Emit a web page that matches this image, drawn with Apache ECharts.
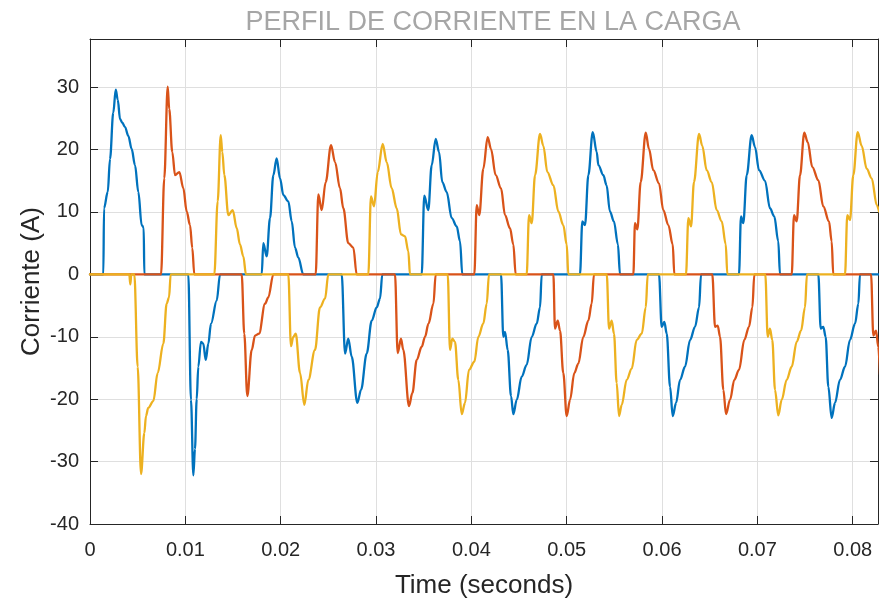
<!DOCTYPE html>
<html>
<head>
<meta charset="utf-8">
<script src="https://cdn.jsdelivr.net/npm/echarts@6/dist/echarts.min.js"></script>
<style>
html,body{margin:0;padding:0;background:#fff;}
#chart{width:879px;height:604px;}
</style>
</head>
<body>
<div id="chart"></div>
<script>
// Time (s) vs current (A) for the three phases
const faseAzul = [
[0,0],[0.00140,0],[0.00147,10.6],[0.00186,13.2],[0.00210,18.5],[0.00244,25.9],[0.00270,29.6],[0.00291,28.0],[0.00315,24.9],[0.00339,24.3],[0.00367,23.6],[0.00402,22.2],[0.00437,20.1],[0.00472,17.5],[0.00507,13.2],[0.00542,7.9],[0.00563,7.5],[0.00570,0],
[0.01031,0],[0.01059,-20.1],[0.01084,-32.2],[0.01101,-28],[0.01119,-20],[0.01136,-14.8],[0.01164,-10.8],[0.01188,-11.1],[0.01214,-13.7],[0.01241,-11.1],[0.01269,-7.9],[0.01329,-4.2],[0.01364,0],
[0.01801,0],[0.01818,5.0],[0.01853,2.9],[0.01888,9.0],[0.01923,15.9],[0.01958,18.6],[0.01993,15.4],[0.02028,12.7],[0.02080,11.7],[0.02116,8.5],[0.02150,4.3],[0.02185,2.7],[0.02237,0],
[0.02640,0],[0.02675,-12.7],[0.02709,-10.3],[0.02745,-13.2],[0.02804,-20.6],[0.02843,-18.5],[0.02902,-12.7],[0.02955,-7.4],[0.03007,-5.3],[0.03042,-3.9],[0.03066,0],
[0.03479,0],[0.03506,12.6],[0.03548,10.3],[0.03584,17.5],[0.03626,21.7],[0.03661,19.6],[0.03695,14.8],[0.03741,13.2],[0.03794,9.0],[0.03846,7.7],[0.03881,5.3],[0.03905,0],
[0.04311,0],[0.04335,-10],[0.04353,-9.2],[0.04381,-12.1],[0.04416,-19.5],[0.04440,-22.4],[0.04476,-20.1],[0.04528,-16.4],[0.04580,-14.5],[0.04633,-10],[0.04685,-7.9],[0.04720,-5.3],[0.04738,0],
[0.05139,0],[0.05164,8.5],[0.05192,7.9],[0.05227,15.9],[0.05273,22.8],[0.05315,19.6],[0.05332,17.5],[0.05384,15.9],[0.05418,14.3],[0.05453,10.1],[0.05495,8.5],[0.05537,4.8],[0.05559,0],
[0.05968,0],[0.05996,-8.4],[0.06024,-7.6],[0.06049,-9.5],[0.06084,-18],[0.06112,-22.7],[0.06147,-20.6],[0.06189,-16.9],[0.06241,-14.8],[0.06294,-10.5],[0.06346,-8.4],[0.06388,-5.3],[0.06409,0],
[0.06807,0],[0.06828,9.3],[0.06852,8.2],[0.06888,15.9],[0.06940,22.3],[0.06975,20.4],[0.07017,16.7],[0.07080,15.0],[0.07132,10.6],[0.07177,9.3],[0.07219,5.3],[0.07237,0],
[0.07639,0],[0.07664,-8.7],[0.07691,-8.4],[0.07716,-10],[0.07744,-18],[0.07779,-23],[0.07814,-20.6],[0.07866,-16.9],[0.07919,-14.8],[0.07971,-10.5],[0.08024,-7.9],[0.08059,-4.7],[0.08076,0],[0.0830,0]
];
const faseNaranja = [
[0,0],[0.00745,0],[0.00779,15.4],[0.00815,30.1],[0.00831,26.5],[0.00863,19.6],[0.00892,15.9],[0.00937,16.4],[0.00979,13.8],[0.01014,10.1],[0.01049,7.9],[0.01073,4.2],[0.01094,0],
[0.01591,0],[0.01618,-9.5],[0.01650,-19.5],[0.01696,-12.1],[0.01731,-9.8],[0.01773,-9.5],[0.01836,-4.7],[0.01870,-3.7],[0.01923,0],
[0.02367,0],[0.02395,12.8],[0.02430,10.3],[0.02472,14.8],[0.02528,20.7],[0.02570,18.0],[0.02622,13.8],[0.02657,10.6],[0.02709,5.0],[0.02762,4.3],[0.02797,0],
[0.03199,0],[0.03227,-12.6],[0.03262,-10.3],[0.03286,-12.1],[0.03346,-21.1],[0.03381,-19],[0.03427,-13.7],[0.03479,-11.6],[0.03514,-10],[0.03550,-7.9],[0.03602,-4.7],[0.03626,0],
[0.04031,0],[0.04056,11.1],[0.04083,9.5],[0.04125,16.9],[0.04171,22.0],[0.04206,20.1],[0.04255,15.9],[0.04311,13.8],[0.04353,9.5],[0.04405,7.4],[0.04440,4.8],[0.04465,0],
[0.04860,0],[0.04877,-8.7],[0.04906,-7.4],[0.04930,-9.0],[0.04964,-15.8],[0.05000,-22.7],[0.05035,-20.1],[0.05080,-15.8],[0.05122,-14.3],[0.05174,-10],[0.05227,-7.4],[0.05262,-4.7],[0.05286,0],
[0.05699,0],[0.05716,8.2],[0.05741,7.2],[0.05776,14.8],[0.05829,22.7],[0.05863,20.1],[0.05908,16.7],[0.05968,14.6],[0.06013,10.3],[0.06066,7.9],[0.06112,4.8],[0.06129,0],
[0.06527,0],[0.06556,-8.4],[0.06584,-8.2],[0.06608,-10],[0.06643,-18.5],[0.06671,-22.4],[0.06713,-20.1],[0.06758,-16.9],[0.06807,-15.3],[0.06863,-10.5],[0.06912,-8.4],[0.06947,-5.3],[0.06968,0],
[0.07360,0],[0.07384,9.5],[0.07412,8.5],[0.07447,15.9],[0.07492,22.7],[0.07528,21.2],[0.07576,17.2],[0.07639,15.1],[0.07691,10.9],[0.07751,8.5],[0.07779,5.3],[0.07796,0],
[0.08192,0],[0.08216,-9.8],[0.08244,-9.0],[0.08268,-11.6],[0.08286,-16]
];
const faseAmarilla = [
[0,0],[0.00412,0],[0.00423,-1.6],[0.00433,0],
[0.00465,0],[0.00500,-14.8],[0.00535,-32],[0.00570,-25.4],[0.00587,-22.7],[0.00611,-21.4],[0.00664,-20.3],[0.00710,-15.8],[0.00769,-11.1],[0.00804,-4.7],[0.00829,-3.7],[0.00846,0],
[0.01304,0],[0.01339,11.7],[0.01371,22.3],[0.01388,19.6],[0.01409,15.9],[0.01451,9.5],[0.01497,10.3],[0.01539,7.4],[0.01573,4.8],[0.01608,2.9],[0.01636,0],
[0.02080,0],[0.02108,-11.5],[0.02132,-10],[0.02158,-9.5],[0.02203,-15.8],[0.02248,-20.9],[0.02290,-16.9],[0.02360,-12.1],[0.02412,-5.3],[0.02465,-3.9],[0.02500,0],
[0.02919,0],[0.02947,12.5],[0.02979,10.9],[0.03018,16.4],[0.03070,20.9],[0.03112,18],[0.03164,13.8],[0.03217,10.6],[0.03262,6.4],[0.03304,6.1],[0.03339,3.7],[0.03356,0],
[0.03752,0],[0.03776,-12.1],[0.03800,-10.3],[0.03828,-10.8],[0.03863,-16.9],[0.03899,-22.4],[0.03933,-20.6],[0.03975,-15.3],[0.04031,-14],[0.04073,-10],[0.04125,-7.9],[0.04161,-4.7],[0.04185,0],
[0.04580,0],[0.04605,9.5],[0.04633,8.2],[0.04668,15.9],[0.04720,22.5],[0.04755,20.6],[0.04797,16.4],[0.04860,14.3],[0.04912,10.1],[0.04964,7.9],[0.05000,4.8],[0.05017,0],
[0.05420,0],[0.05444,-8.7],[0.05472,-7.4],[0.05496,-9.5],[0.05524,-17.4],[0.05549,-22.7],[0.05577,-20.9],[0.05629,-16.9],[0.05682,-15.1],[0.05734,-10.5],[0.05787,-9.5],[0.05829,-5.3],[0.05850,0],
[0.06251,0],[0.06276,9.0],[0.06304,7.7],[0.06335,14.8],[0.06388,22.5],[0.06422,20.6],[0.06468,16.7],[0.06521,14.8],[0.06573,10.3],[0.06626,8.5],[0.06668,4.8],[0.06685,0],
[0.07083,0],[0.07108,-10],[0.07132,-8.7],[0.07156,-10.5],[0.07185,-18.5],[0.07219,-22.6],[0.07255,-20.1],[0.07307,-16.9],[0.07360,-14.8],[0.07412,-10.8],[0.07458,-9.0],[0.07499,-5.3],[0.07520,0],
[0.07919,0],[0.07943,9.5],[0.07971,8.7],[0.08006,15.9],[0.08052,22.8],[0.08094,20.6],[0.08147,16.9],[0.08199,15.4],[0.08252,11.1],[0.08276,10.1]
];
const xRange = [0, 0.08265];
const yRange = [-40, 37.72];
const xStep = 0.01;
const yStep = 10;

const FONT = '"Liberation Sans", Arial, Helvetica, sans-serif';
const AX = '#262626';
const GRIDC = '#dfdfdf';

const chart = echarts.init(document.getElementById('chart'), null, {renderer: 'canvas'});

function xAx(pos, show) {
  return {
    type: 'value', position: pos, min: xRange[0], max: xRange[1], interval: xStep,
    axisLine: {show: true, onZero: false, lineStyle: {color: AX, width: 1}},
    axisTick: {show: true, inside: true, length: 8, lineStyle: {color: AX}},
    axisLabel: {show: show, color: AX, fontSize: 20, fontFamily: FONT, margin: 16, showMaxLabel: false},
    splitLine: {show: show, lineStyle: {color: GRIDC, width: 1}},
    name: show ? 'Time (seconds)' : '', nameLocation: 'middle', nameGap: 49,
    nameMoveOverlap: false,
    nameTextStyle: {color: AX, fontSize: 26, fontFamily: FONT}
  };
}
function yAx(pos, show) {
  return {
    type: 'value', position: pos, min: yRange[0], max: yRange[1], interval: yStep,
    axisLine: {show: true, onZero: false, lineStyle: {color: AX, width: 1}},
    axisTick: {show: true, inside: true, length: 8, lineStyle: {color: AX}},
    axisLabel: {show: show, color: AX, fontSize: 20, fontFamily: FONT, margin: 11, showMaxLabel: false},
    splitLine: {show: show, lineStyle: {color: GRIDC, width: 1}},
    name: show ? 'Corriente (A)' : '', nameLocation: 'middle', nameGap: 45,
    nameMoveOverlap: false,
    nameTextStyle: {color: AX, fontSize: 26, fontFamily: FONT}
  };
}

const seriesDefs = [
  {name: 'A', data: faseAzul, color: '#0072BD'},
  {name: 'B', data: faseNaranja, color: '#D95319'},
  {name: 'C', data: faseAmarilla, color: '#EDB120'}
];

chart.setOption({
  backgroundColor: '#ffffff',
  animation: false,
  title: {
    text: 'PERFIL DE CORRIENTE EN LA CARGA',
    left: 488, top: 4, textAlign: 'center',
    textStyle: {color: '#a6a6a6', fontSize: 27, fontWeight: 'normal', fontFamily: FONT}
  },
  grid: {left: 90, top: 39, width: 788, height: 490, containLabel: false},
  xAxis: [xAx('bottom', true), xAx('top', false)],
  yAxis: [yAx('left', true), yAx('right', false)],
  series: seriesDefs.map(s => ({
    name: s.name, type: 'line', xAxisIndex: 0, yAxisIndex: 0,
    data: s.data, showSymbol: false, symbol: 'none',
    smooth: 0.35, smoothMonotone: 'x', clip: true,
    lineStyle: {color: s.color, width: 2.3, join: 'round', cap: 'round'},
    itemStyle: {color: s.color}
  }))
});
</script>
</body>
</html>
